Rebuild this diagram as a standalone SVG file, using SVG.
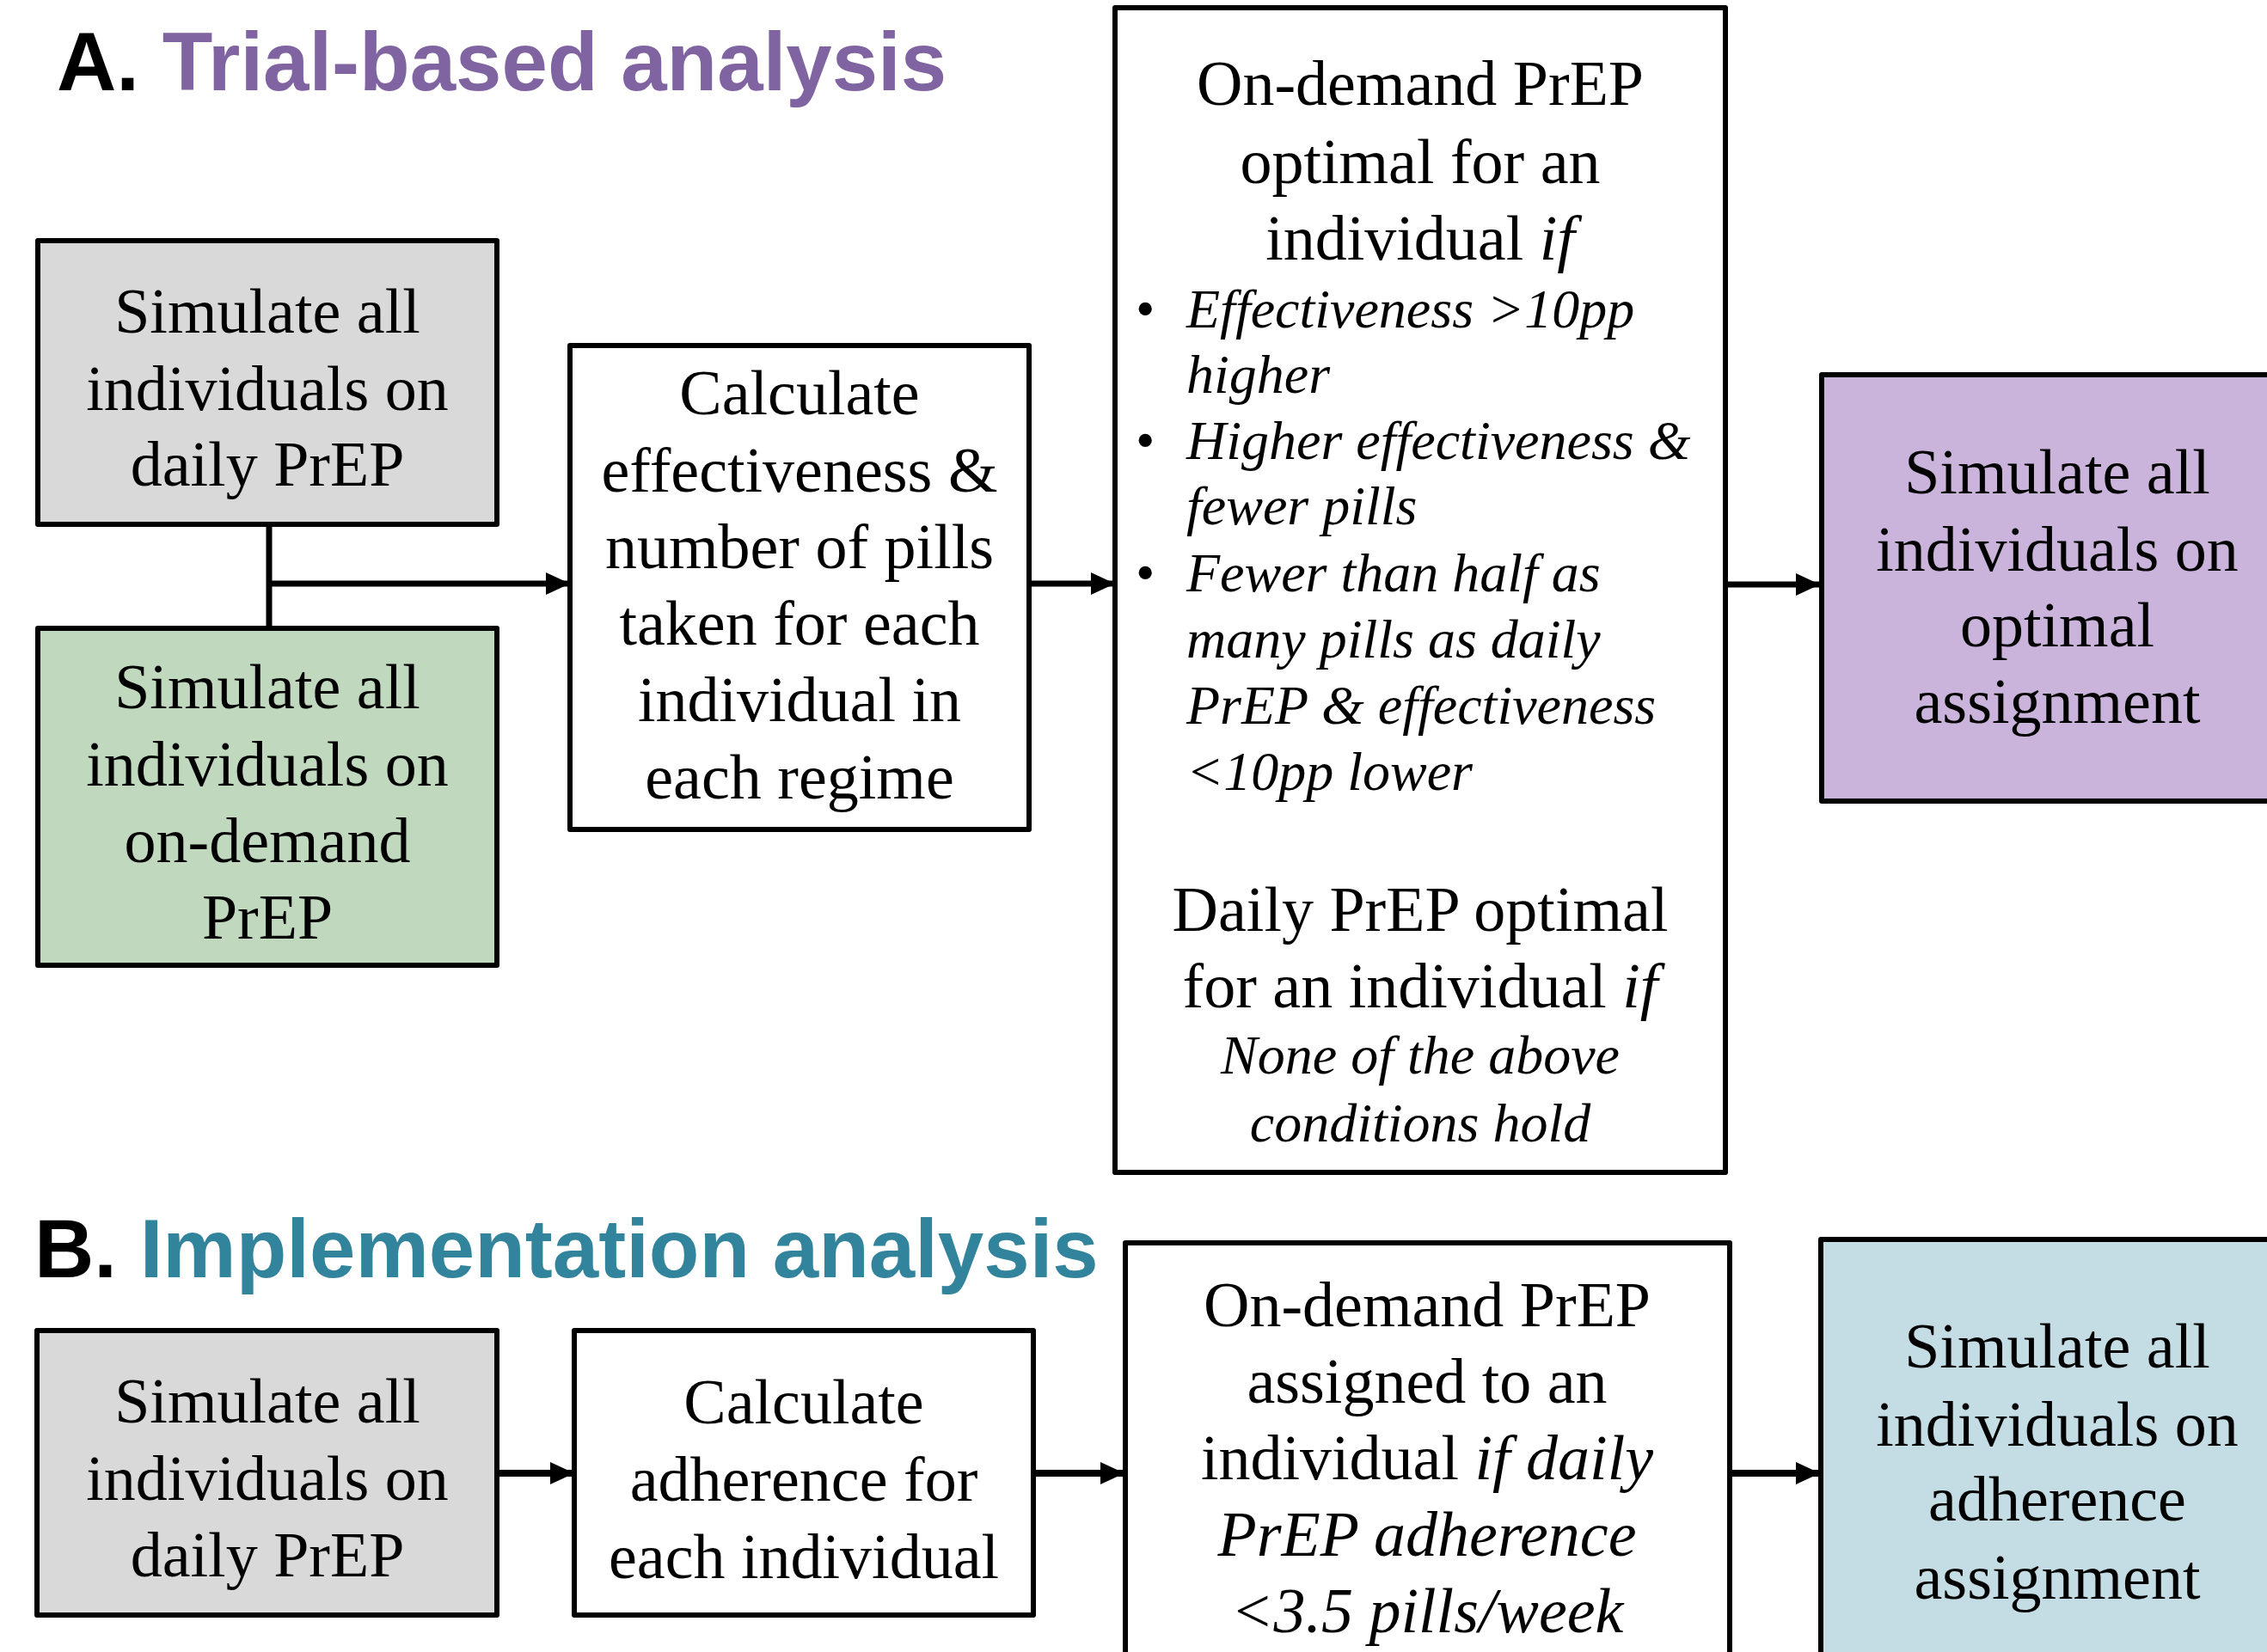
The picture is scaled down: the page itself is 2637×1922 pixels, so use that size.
<svg xmlns="http://www.w3.org/2000/svg" width="2637" height="1922" viewBox="0 0 2637 1922">
<style>
.box{stroke:#000;stroke-width:6;stroke-linejoin:round}
.t{font-family:"Liberation Serif","Times New Roman",serif;font-size:74px;fill:#000;text-anchor:middle}
.bl{font-family:"Liberation Serif","Times New Roman",serif;font-size:64px;fill:#000;font-style:italic}
.bu{font-family:"Liberation Serif","Times New Roman",serif;font-size:64px;fill:#000}
.i{font-style:italic}
.h{font-family:"Liberation Sans",Arial,sans-serif;font-weight:bold;font-size:96px}
.c{fill:none;stroke:#000;stroke-width:7}
.cb{fill:none;stroke:#000;stroke-width:8}
</style>
<defs>
<marker id="ah" markerUnits="userSpaceOnUse" markerWidth="30" markerHeight="30" viewBox="0 0 30 30" refX="28" refY="15" orient="auto">
<path d="M0,2 L28,15 L0,28 Z" fill="#000"/>
</marker>
</defs>
<rect width="2637" height="1922" fill="#fff"/>

<g id="titleA"><text class="h" x="66" y="105"><tspan fill="#000">A.</tspan><tspan fill="#8064A2"> Trial-based analysis</tspan></text></g>
<g id="titleB"><text class="h" x="40" y="1486"><tspan fill="#000">B.</tspan><tspan fill="#31849B"> Implementation analysis</tspan></text></g>

<g id="connectors">
<line class="c" x1="313" y1="610" x2="313" y2="731"/>
<line class="c" x1="310" y1="679" x2="663" y2="679" marker-end="url(#ah)"/>
<line class="c" x1="1197" y1="679" x2="1297" y2="679" marker-end="url(#ah)"/>
<line class="c" x1="2007" y1="680" x2="2117" y2="680" marker-end="url(#ah)"/>
<line class="cb" x1="578" y1="1714" x2="668" y2="1714" marker-end="url(#ah)"/>
<line class="cb" x1="1202" y1="1714" x2="1308" y2="1714" marker-end="url(#ah)"/>
<line class="cb" x1="2012" y1="1714" x2="2117" y2="1714" marker-end="url(#ah)"/>
</g>

<g id="a-daily">
<rect class="box" x="44" y="280" width="534" height="330" fill="#D9D9D9"/>
<text class="t" x="311" y="387">Simulate all</text>
<text class="t" x="311" y="477">individuals on</text>
<text class="t" x="311" y="565">daily PrEP</text>
</g>

<g id="a-ondemand">
<rect class="box" x="44" y="731" width="534" height="392" fill="#C0D9BE"/>
<text class="t" x="311" y="824">Simulate all</text>
<text class="t" x="311" y="914">individuals on</text>
<text class="t" x="311" y="1003">on-demand</text>
<text class="t" x="311" y="1092">PrEP</text>
</g>

<g id="a-calc">
<rect class="box" x="663" y="402" width="534" height="563" fill="#fff"/>
<text class="t" x="930" y="482">Calculate</text>
<text class="t" x="930" y="572">effectiveness &amp;</text>
<text class="t" x="930" y="661">number of pills</text>
<text class="t" x="930" y="750">taken for each</text>
<text class="t" x="930" y="839">individual in</text>
<text class="t" x="930" y="929">each regime</text>
</g>

<g id="a-rules">
<rect class="box" x="1297" y="9" width="710" height="1355" fill="#fff"/>
<text class="t" x="1652" y="122">On-demand PrEP</text>
<text class="t" x="1652" y="213">optimal for an</text>
<text class="t" x="1652" y="302">individual <tspan class="i">if</tspan></text>
<text class="bu" x="1321" y="381">•</text>
<text class="bl" x="1380" y="381">Effectiveness &gt;10pp</text>
<text class="bl" x="1380" y="457">higher</text>
<text class="bu" x="1321" y="534">•</text>
<text class="bl" x="1380" y="534">Higher effectiveness &amp;</text>
<text class="bl" x="1380" y="610">fewer pills</text>
<text class="bu" x="1321" y="688">•</text>
<text class="bl" x="1380" y="688">Fewer than half as</text>
<text class="bl" x="1380" y="765">many pills as daily</text>
<text class="bl" x="1380" y="842">PrEP &amp; effectiveness</text>
<text class="bl" x="1380" y="919">&lt;10pp lower</text>
<text class="t" x="1652" y="1083">Daily PrEP optimal</text>
<text class="t" x="1652" y="1172">for an individual <tspan class="i">if</tspan></text>
<text class="bl" x="1652" y="1249" text-anchor="middle">None of the above</text>
<text class="bl" x="1652" y="1328" text-anchor="middle">conditions hold</text>
</g>

<g id="a-optimal">
<rect class="box" x="2119" y="436" width="560" height="496" fill="#CBB4DC"/>
<text class="t" x="2393" y="574">Simulate all</text>
<text class="t" x="2393" y="664">individuals on</text>
<text class="t" x="2393" y="752">optimal</text>
<text class="t" x="2393" y="841">assignment</text>
</g>

<g id="b-daily">
<rect class="box" x="43" y="1548" width="535" height="331" fill="#D9D9D9"/>
<text class="t" x="311" y="1655">Simulate all</text>
<text class="t" x="311" y="1745">individuals on</text>
<text class="t" x="311" y="1834">daily PrEP</text>
</g>

<g id="b-calc">
<rect class="box" x="668" y="1548" width="534" height="331" fill="#fff"/>
<text class="t" x="935" y="1656">Calculate</text>
<text class="t" x="935" y="1746">adherence for</text>
<text class="t" x="935" y="1836">each individual</text>
</g>

<g id="b-rule">
<rect class="box" x="1309" y="1446" width="703" height="520" fill="#fff"/>
<text class="t" x="1660" y="1543">On-demand PrEP</text>
<text class="t" x="1660" y="1632">assigned to an</text>
<text class="t" x="1660" y="1721">individual <tspan class="i">if daily</tspan></text>
<text class="t i" x="1660" y="1810">PrEP adherence</text>
<text class="t i" x="1660" y="1899">&lt;3.5 pills/week</text>
</g>

<g id="b-adherence">
<rect class="box" x="2118" y="1442" width="560" height="520" fill="#C4DDE4"/>
<text class="t" x="2393" y="1591">Simulate all</text>
<text class="t" x="2393" y="1682">individuals on</text>
<text class="t" x="2393" y="1769">adherence</text>
<text class="t" x="2393" y="1860">assignment</text>
</g>
</svg>
